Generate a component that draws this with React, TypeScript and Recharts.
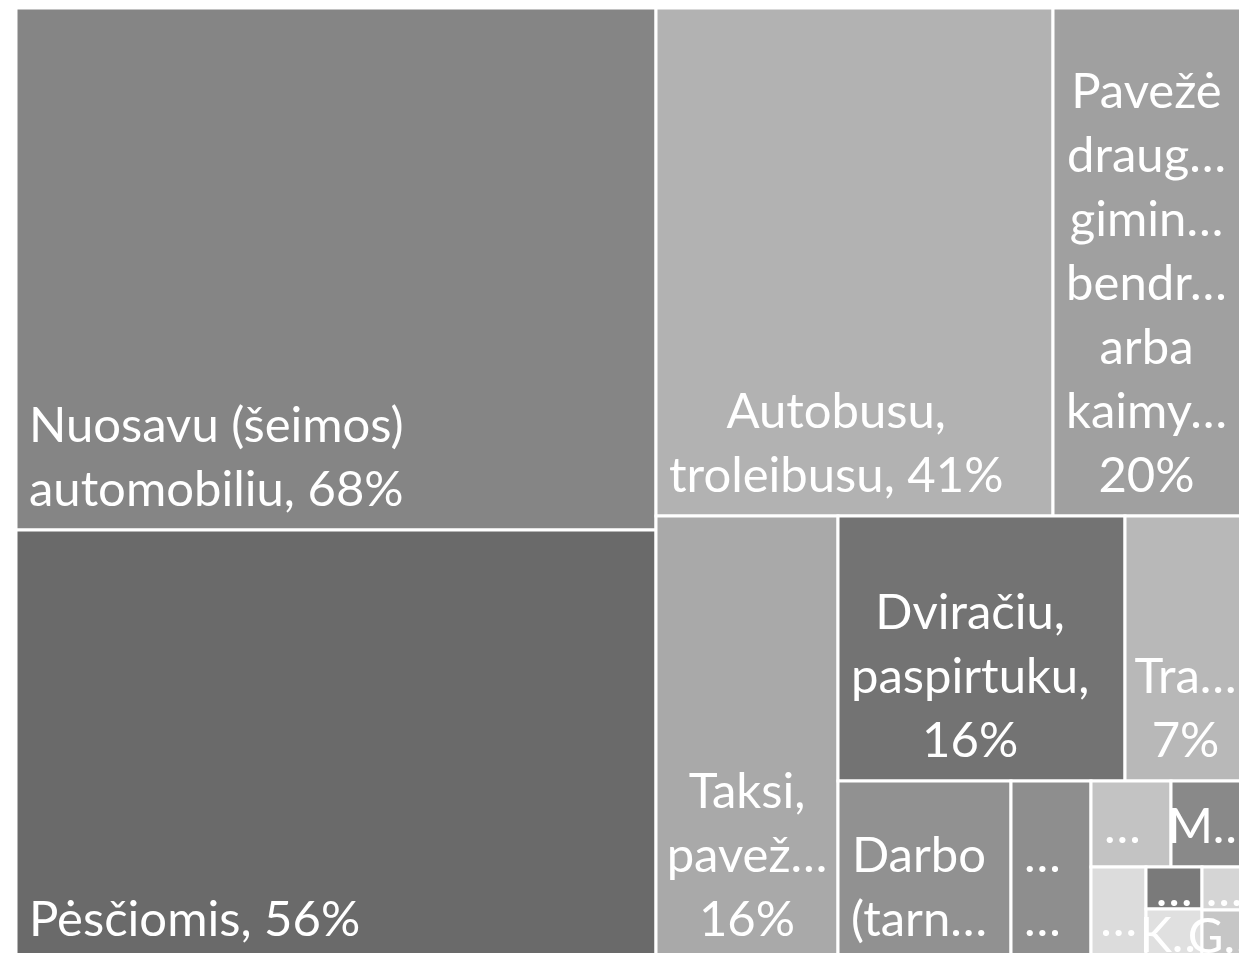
import React from 'react';
import { Treemap } from 'recharts';

// labels as they are printed in the tiles (Excel already cut the long ones)
const NAMES = [
  'Nuosavu (šeimos) automobiliu',
  'Pėsčiomis',
  'Autobusu, troleibusu',
  'Pavežė draug… gimin… bendr… arba kaimy…',
  'Taksi, pavež…',
  'Dviračiu, paspirtuku',
  'Tra…',
  'Darbo (tarn…',
  '… …',
  '…',
  'M…',
  '…',
  '…',
  'K…',
  '…',
  'G…',
];

const VALUES = [68, 56, 41, 20, 16.4, 15.5, 6.5, 6.3, 2.9, 1.4, 1.3, 1.05, 0.48, 0.58, 0.38, 0.45];

const FILLS = [
  '#858585', '#6a6a6a', '#b2b2b2', '#a0a0a0', '#a9a9a9', '#737373', '#b8b8b8', '#919191',
  '#8e8e8e', '#c3c3c3', '#898989', '#dcdcdc', '#7a7a7a', '#e0e0e0', '#d5d5d5', '#c6c6c6',
];

// grouping of the tiles so the squarify layout follows the Excel tiling order
type Group = number | Group[];
const GROUPS: Group[] = [[0, 1], [2, 3], 4, [5, 6], [7, 8, [[9, 10], [11, [[12, 13], [14, 15]]]]]];

const build = (g: Group): any =>
  typeof g === 'number'
    ? { name: NAMES[g], value: VALUES[g], idx: g }
    : { children: g.map(build) };

const TREE = GROUPS.map(build);

const FONT_SIZE = 49;
const FONT_FAMILY = 'Lato';
const PAD = 13; // left inset of the label block
const FIT_PAD = 8; // margin used when cutting words
const LINE = 64;
const BOTTOM = 24;
const ELL = '…';

let ctx: CanvasRenderingContext2D | null = null;
const measure = (s: string) => {
  if (!ctx) ctx = document.createElement('canvas').getContext('2d');
  ctx!.font = `${FONT_SIZE}px ${FONT_FAMILY}`;
  return ctx!.measureText(s).width;
};

const fitWord = (word: string, avail: number) => {
  if (measure(word) <= avail) return word;
  const base = word.endsWith(ELL) ? word.slice(0, -1) : word;
  for (let i = base.length - 1; i > 1; i--) {
    const s = base.slice(0, i) + ELL;
    if (measure(s) <= avail) return s;
  }
  return base.length ? base[0] + ELL : ELL;
};

const wrap = (text: string, avail: number) => {
  const lines: string[] = [];
  let cur = '';
  text.split(' ').forEach((w) => {
    const t = cur ? cur + ' ' + w : w;
    if (!cur || measure(t) <= avail) cur = t;
    else {
      lines.push(cur);
      cur = w;
    }
  });
  if (cur) lines.push(cur);
  return lines.map((l) => fitWord(l, avail));
};

function Tile(props: any) {
  const { x, y, width, height, children, name, value, idx } = props;
  if ((children && children.length) || idx === undefined) return <g />;

  const label = `${name}${name.endsWith(ELL) ? '' : ','} ${Math.round(value)}%`;
  const lines = wrap(label, width - 2 * FIT_PAD);
  const fit = Math.floor((height - 20) / LINE);
  const shown = lines.slice(0, Math.max(1, fit));
  const bw = Math.max(...shown.map(measure));
  const cx = bw <= width - 2 * PAD ? x + PAD + bw / 2 : x + width / 2;
  const lastBase = fit >= 1 ? y + height - BOTTOM : y + height / 2 + FONT_SIZE * 0.36;

  return (
    <g>
      <rect x={x} y={y} width={width} height={height} fill={FILLS[idx]} stroke="#ffffff" strokeWidth={3} />
      {shown.map((l, i) => (
        <text
          key={i}
          x={cx}
          y={lastBase - (shown.length - 1 - i) * LINE}
          textAnchor="middle"
          fill="#ffffff"
          fontFamily={FONT_FAMILY}
          fontSize={FONT_SIZE}
        >
          {l}
        </text>
      ))}
    </g>
  );
}

export default function App() {
  return (
    <div
      style={{
        position: 'fixed',
        left: 0,
        top: 0,
        width: 1239,
        height: 953,
        overflow: 'hidden',
        background: '#ffffff',
      }}
    >
      <div style={{ position: 'absolute', left: 16, top: 8 }}>
        <Treemap
          width={1230}
          height={952}
          data={TREE}
          dataKey="value"
          aspectRatio={0.75}
          isAnimationActive={false}
          content={<Tile />}
        />
      </div>
    </div>
  );
}
